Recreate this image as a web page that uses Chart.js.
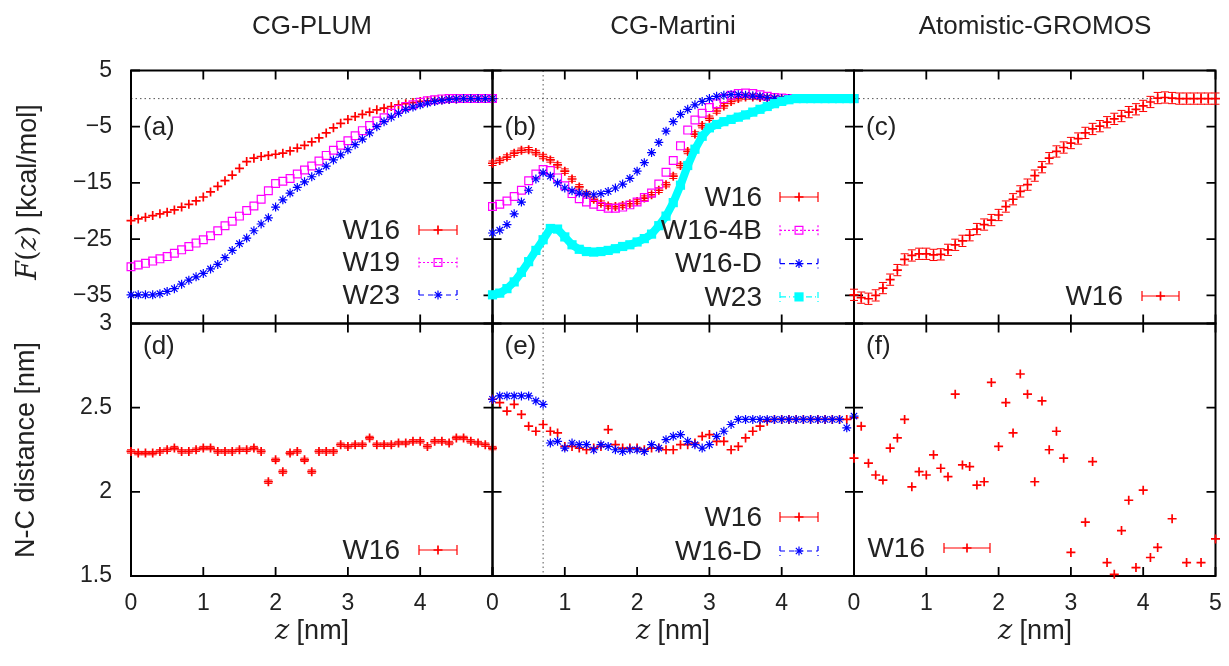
<!DOCTYPE html>
<html>
<head>
<meta charset="utf-8">
<title>Free energy and N-C distance profiles</title>
<script src="https://cdn.jsdelivr.net/npm/chart.js@4.4.1/dist/chart.umd.min.js"></script>
<style>
  html, body { margin: 0; padding: 0; background: #fff; }
  #page { position: relative; width: 1229px; height: 666px; overflow: hidden;
          font-family: "Liberation Sans", Arial, sans-serif; color: #222; }
  #page canvas { position: absolute; left: 0; top: 0; }
  .t { position: absolute; white-space: nowrap; transform: translate(-50%, -50%); }
  .col { font-size: 26px; top: 25px; }
  .xl { font-size: 27px; top: 630px; }
  .yl { font-size: 27px; transform: translate(-50%, -50%) rotate(-90deg); }
  .m { font-family: "DejaVu Serif", "Liberation Serif", serif; font-style: italic; }
  .r { font-family: "DejaVu Serif", "Liberation Serif", serif; }
</style>
</head>
<body>
<div id="page">
  <canvas id="pa" width="1229" height="666"></canvas>
  <canvas id="pb" width="1229" height="666"></canvas>
  <canvas id="pc" width="1229" height="666"></canvas>
  <canvas id="pd" width="1229" height="666"></canvas>
  <canvas id="pe" width="1229" height="666"></canvas>
  <canvas id="pf" width="1229" height="666"></canvas>

  <div class="t col" style="left:312px">CG-PLUM</div>
  <div class="t col" style="left:673px">CG-Martini</div>
  <div class="t col" style="left:1035px">Atomistic-GROMOS</div>

  <div class="t yl" style="left:27px; top:192px"><span class="m">F</span><span class="r">(</span><span class="m">z</span><span class="r">)</span> [kcal/mol]</div>
  <div class="t yl" style="left:25px; top:450px">N-C distance [nm]</div>

  <div class="t xl" style="left:312px"><span class="m">z</span> [nm]</div>
  <div class="t xl" style="left:673px"><span class="m">z</span> [nm]</div>
  <div class="t xl" style="left:1035px"><span class="m">z</span> [nm]</div>
</div>

<script>
// ---- data ----
var zGrid = [0, 0.1, 0.2, 0.3, 0.4, 0.5, 0.6, 0.7, 0.8, 0.9,
             1.0, 1.1, 1.2, 1.3, 1.4, 1.5, 1.6, 1.7, 1.8, 1.9,
             2.0, 2.1, 2.2, 2.3, 2.4, 2.5, 2.6, 2.7, 2.8, 2.9,
             3.0, 3.1, 3.2, 3.3, 3.4, 3.5, 3.6, 3.7, 3.8, 3.9,
             4.0, 4.1, 4.2, 4.3, 4.4, 4.5, 4.6, 4.7, 4.8, 4.9, 5.0];

// (a) CG-PLUM free energy
var plumW16 = [-21.7, -21.4, -21.1, -20.8, -20.5, -20.2, -19.8, -19.3, -18.8, -18.2,
               -17.5, -16.6, -15.6, -14.6, -13.6, -12.4, -11.2, -10.6, -10.3, -10.1,
               -9.9, -9.7, -9.3, -8.8, -8.3, -7.7, -7.0, -6.1, -5.2, -4.4,
               -3.7, -3.2, -2.8, -2.4, -2.0, -1.7, -1.4, -1.1, -0.9, -0.7,
               -0.5, -0.4, -0.3, -0.2, -0.1, -0.05, 0, 0, 0, 0, 0];
var plumW19 = [-29.9, -29.6, -29.3, -28.9, -28.5, -28.1, -27.5, -26.9, -26.3, -25.7,
               -25.1, -24.4, -23.5, -22.6, -21.8, -20.9, -19.9, -19.1, -17.9, -16.4,
               -15.1, -14.7, -14.2, -13.4, -12.7, -12.0, -11.1, -10.1, -9.2, -8.3,
               -7.5, -6.6, -5.7, -4.8, -4.0, -3.4, -2.6, -1.9, -1.4, -1.1,
               -0.65, -0.4, -0.2, -0.05, 0, 0, 0, 0, 0, 0, 0];
var plumW23 = [-34.9, -34.9, -34.9, -34.9, -34.7, -34.3, -33.8, -33.0, -32.3, -31.7,
               -31.1, -30.3, -29.5, -28.3, -27.0, -25.8, -24.8, -23.5, -22.3, -21.2,
               -19.3, -18.0, -16.8, -15.8, -14.8, -13.9, -13.0, -12.0, -10.9, -10.0,
               -9.1, -8.2, -7.2, -6.1, -5.0, -4.1, -3.3, -2.6, -1.9, -1.5,
               -1.1, -0.8, -0.5, -0.3, -0.15, -0.05, 0, 0, 0, 0, 0];

// (b) CG-Martini free energy
var martW16 = [-11.5, -11.0, -10.4, -9.7, -9.2, -9.1, -9.6, -10.3, -10.9, -11.8,
               -12.9, -14.3, -15.7, -16.9, -17.9, -18.6, -19.1, -19.2, -19.0, -18.7,
               -18.3, -17.7, -17.1, -16.3, -15.3, -13.8, -11.9, -9.4, -6.3, -4.8,
               -3.5, -2.2, -1.3, -0.5, 0.0, 0.3, 0.3, 0.2, 0.1, 0,
               0, 0, 0, 0, 0, 0, 0, 0, 0, 0, 0];
var martW16_4B = [-19.2, -18.8, -18.2, -17.4, -16.3, -14.6, -13.4, -12.6, -12.8, -14.1,
                  -15.5, -16.9, -17.8, -18.4, -18.8, -19.2, -19.5, -19.5, -19.3, -18.9,
                  -18.4, -17.6, -16.8, -15.2, -13.1, -11.0, -8.4, -5.6, -3.8, -2.6,
                  -1.6, -0.9, 0.0, 0.6, 0.9, 1.0, 0.9, 0.7, 0.4, 0.2,
                  0.1, 0, 0, 0, 0, 0, 0, 0, 0, 0, 0];
var martW16_D = [-23.9, -23.4, -22.4, -20.5, -18.4, -16.3, -14.3, -13.2, -13.8, -15.0,
                 -15.9, -16.4, -16.8, -17.0, -17.1, -16.9, -16.5, -15.9, -15.2, -14.2,
                 -12.9, -11.4, -9.6, -7.8, -5.8, -4.1, -2.8, -1.9, -1.1, -0.5,
                 0.0, 0.4, 0.6, 0.7, 0.7, 0.6, 0.5, 0.4, 0.2, 0.1,
                 0, 0, 0, 0, 0, 0, 0, 0, 0, 0, 0];
var martW23 = [-34.9, -34.6, -33.8, -32.6, -30.9, -29.0, -27.0, -25.1, -23.1, -23.2,
               -24.6, -26.0, -26.8, -27.2, -27.3, -27.2, -27.0, -26.7, -26.3, -26.0,
               -25.5, -24.9, -24.1, -22.6, -20.9, -18.5, -15.4, -11.9, -9.0, -6.7,
               -5.2, -4.6, -4.1, -3.7, -3.3, -2.9, -2.4, -1.9, -1.4, -0.9,
               -0.5, -0.2, 0, 0, 0, 0, 0, 0, 0, 0, 0];

// (c) Atomistic-GROMOS free energy
var gromW16 = [-34.9, -35.4, -35.6, -35.0, -33.7, -32.2, -30.5, -28.6, -27.9, -27.6,
               -27.6, -27.8, -27.7, -26.9, -26.0, -25.3, -24.3, -23.2, -22.4, -21.6,
               -20.7, -19.2, -17.9, -16.5, -15.3, -13.7, -12.2, -10.6, -9.4, -8.7,
               -7.9, -7.1, -6.1, -5.4, -4.9, -4.2, -3.6, -3.1, -2.4, -1.9,
               -1.3, -0.6, 0.1, 0.2, 0.1, 0, 0, 0, 0, 0, 0];

// (d) CG-PLUM N-C distance
var plumNC = [2.24, 2.23, 2.23, 2.23, 2.24, 2.25, 2.26, 2.24, 2.24, 2.25,
              2.26, 2.26, 2.24, 2.24, 2.24, 2.25, 2.25, 2.26, 2.24, 2.06,
              2.19, 2.12, 2.23, 2.24, 2.19, 2.12, 2.24, 2.24, 2.24, 2.28,
              2.27, 2.28, 2.28, 2.32, 2.28, 2.28, 2.28, 2.29, 2.29, 2.30,
              2.30, 2.27, 2.30, 2.30, 2.29, 2.32, 2.32, 2.30, 2.29, 2.28, 2.26];

// (e) CG-Martini N-C distance
var martNC_W16 = [2.55, 2.53, 2.48, 2.52, 2.46, 2.39, 2.36, 2.40, 2.36, 2.35,
                  2.27, 2.27, 2.26, 2.25, 2.26, 2.27, 2.37, 2.28, 2.26, 2.26,
                  2.26, 2.25, 2.26, 2.26, 2.25, 2.25, 2.28, 2.28, 2.29, 2.33,
                  2.34, 2.30, 2.30, 2.25, 2.27, 2.32, 2.36, 2.39, 2.42, 2.43,
                  2.43, 2.43, 2.43, 2.43, 2.43, 2.43, 2.43, 2.43, 2.43, 2.43, 2.44];
var martNC_W16D = [2.55, 2.57, 2.57, 2.57, 2.57, 2.57, 2.54, 2.52, 2.29, 2.30,
                   2.26, 2.29, 2.28, 2.28, 2.25, 2.28, 2.27, 2.25, 2.24, 2.25,
                   2.25, 2.24, 2.28, 2.26, 2.31, 2.33, 2.34, 2.30, 2.28, 2.26,
                   2.28, 2.33, 2.36, 2.40, 2.43, 2.43, 2.43, 2.43, 2.43, 2.43,
                   2.43, 2.43, 2.43, 2.43, 2.43, 2.43, 2.43, 2.43, 2.43, 2.38, 2.45];

// (f) Atomistic-GROMOS N-C distance (points below 1.5 are off the plot)
var gromZ = [0, 0.1, 0.2, 0.3, 0.4, 0.5, 0.6, 0.7, 0.8, 0.9,
             1.0, 1.1, 1.2, 1.3, 1.4, 1.5, 1.6, 1.7, 1.8, 1.9,
             2.0, 2.1, 2.2, 2.3, 2.4, 2.5, 2.6, 2.7, 2.8, 2.9,
             3.0, 3.2, 3.3, 3.5, 3.6, 3.7, 3.8, 3.9, 4.0, 4.1,
             4.2, 4.4, 4.6, 4.8, 5.0];
var gromNC = [2.20, 2.39, 2.17, 2.10, 2.07, 2.26, 2.32, 2.43, 2.03, 2.12,
              2.10, 2.22, 2.14, 2.09, 2.58, 2.16, 2.15, 2.04, 2.06, 2.65,
              2.27, 2.53, 2.35, 2.70, 2.58, 2.06, 2.54, 2.25, 2.36, 2.20,
              1.64, 1.82, 2.18, 1.58, 1.51, 1.77, 1.95, 1.55, 2.01, 1.61,
              1.67, 1.84, 1.58, 1.58, 1.72];

var zTicks = [0, 1, 2, 3, 4, 5];
var energyTicks = [5, -5, -15, -25, -35];
var distTicks = [3, 2.5, 2, 1.5];
var energyRange = [-40, 5];
var distRange = [1.5, 3];
var bulkLevel = 0;      // dotted reference line in (a)-(c)
var martiniMarkZ = 0.7; // dotted vertical line in (b) and (e)

// ---- layout ----
var W = 1229, H = 666;
var COLS = [[131, 492.5], [492.5, 854], [854, 1215.5]];
var ROWS = [[70.5, 323.5], [323.5, 576]];
var X_LABEL_BAND = 60;
var INK = "#222";
var FONT = "'Liberation Sans', Arial, sans-serif";

var RED = "#ff0000", MAG = "#ff00ff", BLUE = "#0000ff", CYAN = "#00ffff";

function pts(xs, ys) {
  return ys.map(function (y, i) { return { x: xs[i], y: y }; });
}

function plus(label, xs, ys, extra) {
  return Object.assign({
    label: label, data: pts(xs, ys), pointStyle: "cross", pointRadius: 4.5,
    borderColor: RED, backgroundColor: RED, pointBorderWidth: 1.7, clip: false, keyDash: []
  }, extra || {});
}
function openSquare(label, xs, ys, extra) {
  return Object.assign({
    label: label, data: pts(xs, ys), pointStyle: "rect", pointRadius: 5.5,
    borderColor: MAG, backgroundColor: "rgba(0,0,0,0)", pointBorderWidth: 1.2, clip: false, keyDash: [2, 2]
  }, extra || {});
}
function star(label, xs, ys, extra) {
  return Object.assign({
    label: label, data: pts(xs, ys), pointStyle: "star", pointRadius: 4.5,
    borderColor: BLUE, backgroundColor: BLUE, pointBorderWidth: 1.2, clip: false, keyDash: [5, 4]
  }, extra || {});
}

// frame, inward tics and dotted guide lines
var framePlugin = {
  id: "frame",
  beforeDatasetsDraw: function (chart, args, o) {
    var ctx = chart.ctx, a = chart.chartArea, xs = chart.scales.x, ys = chart.scales.y;
    ctx.save();
    ctx.strokeStyle = "#555";
    ctx.lineWidth = 1;
    ctx.setLineDash([1.5, 3]);
    if (o.hLine !== undefined) {
      var py = ys.getPixelForValue(o.hLine);
      ctx.beginPath(); ctx.moveTo(a.left, py); ctx.lineTo(a.right, py); ctx.stroke();
    }
    if (o.vLine !== undefined) {
      var px = xs.getPixelForValue(o.vLine);
      ctx.beginPath(); ctx.moveTo(px, a.top); ctx.lineTo(px, a.bottom); ctx.stroke();
    }
    ctx.setLineDash([]);
    ctx.strokeStyle = "#000";
    ctx.lineWidth = 1.8;
    ctx.beginPath();
    xs.ticks.forEach(function (t) {
      var x = xs.getPixelForValue(t.value);
      ctx.moveTo(x, a.bottom); ctx.lineTo(x, a.bottom - 9);
      ctx.moveTo(x, a.top); ctx.lineTo(x, a.top + 9);
    });
    ys.ticks.forEach(function (t) {
      var y = ys.getPixelForValue(t.value);
      ctx.moveTo(a.left, y); ctx.lineTo(a.left + 9, y);
      ctx.moveTo(a.right, y); ctx.lineTo(a.right - 9, y);
    });
    ctx.stroke();
    ctx.lineWidth = 2;
    ctx.strokeRect(a.left, a.top, a.right - a.left, a.bottom - a.top);
    ctx.fillStyle = INK;
    ctx.font = "26px " + FONT;
    ctx.textAlign = "left";
    ctx.textBaseline = "middle";
    ctx.fillText(o.label, a.left + 12, o.labelY);
    ctx.restore();
  }
};

// vertical error bars with caps
var errorBarPlugin = {
  id: "errbars",
  beforeDatasetDraw: function (chart, args) {
    var ds = chart.data.datasets[args.index];
    if (!ds.errY) return;
    var ctx = chart.ctx, ys = chart.scales.y;
    ctx.save();
    ctx.strokeStyle = ds.borderColor;
    ctx.lineWidth = 1;
    ctx.beginPath();
    args.meta.data.forEach(function (p, i) {
      var v = ds.data[i].y;
      var y1 = ys.getPixelForValue(v - ds.errY), y2 = ys.getPixelForValue(v + ds.errY);
      ctx.moveTo(p.x, y1); ctx.lineTo(p.x, y2);
      ctx.moveTo(p.x - 4, y1); ctx.lineTo(p.x + 4, y1);
      ctx.moveTo(p.x - 4, y2); ctx.lineTo(p.x + 4, y2);
    });
    ctx.stroke();
    ctx.restore();
  }
};

// gnuplot-like key inside the panel
var keyPlugin = {
  id: "key",
  afterDraw: function (chart, args, o) {
    var ctx = chart.ctx;
    ctx.save();
    ctx.font = "28px " + FONT;
    ctx.textAlign = "right";
    ctx.textBaseline = "middle";
    chart.data.datasets.forEach(function (ds, i) {
      var y = o.y + i * o.dy;
      ctx.fillStyle = INK;
      ctx.fillText(ds.label, o.x, y + 1);
      ctx.strokeStyle = ds.borderColor;
      ctx.lineWidth = 1.2;
      ctx.setLineDash(ds.keyDash);
      ctx.beginPath();
      ctx.moveTo(o.s1, y); ctx.lineTo(o.s2, y);
      ctx.moveTo(o.s1, y - 5); ctx.lineTo(o.s1, y + 5);
      ctx.moveTo(o.s2, y - 5); ctx.lineTo(o.s2, y + 5);
      ctx.stroke();
      ctx.setLineDash([]);
      ctx.fillStyle = ds.backgroundColor;
      ctx.lineWidth = ds.pointBorderWidth;
      Chart.helpers.drawPoint(ctx, {
        pointStyle: ds.pointStyle, radius: ds.pointRadius, borderWidth: ds.pointBorderWidth, rotation: 0
      }, (o.s1 + o.s2) / 2, y);
    });
    ctx.restore();
  }
};

function minusSign(v) { return String(v).replace("-", "\u2212"); }

function panel(id, col, row, datasets, o) {
  var c = COLS[col], r = ROWS[row];
  var yr = row === 0 ? energyRange : distRange;
  var yt = row === 0 ? energyTicks : distTicks;
  // tick labels are clipped to their axis box, so the labelled axes get real room
  var yW = col === 0 ? c[0] : 0;
  var xH = row === 1 ? X_LABEL_BAND : 0;
  return new Chart(document.getElementById(id), {
    type: "scatter",
    data: { datasets: datasets },
    options: {
      responsive: false,
      animation: false,
      events: [],
      layout: { padding: { left: c[0] - yW, right: W - c[1], top: r[0], bottom: H - r[1] - xH } },
      plugins: {
        legend: { display: false },
        tooltip: { enabled: false },
        frame: { hLine: o.hLine, vLine: o.vLine, label: o.label, labelY: o.labelY },
        key: o.key
      },
      scales: {
        x: {
          type: "linear", min: 0, max: 5,
          afterBuildTicks: function (s) { s.ticks = zTicks.map(function (v) { return { value: v }; }); },
          afterFit: function (s) { s.height = xH; s.paddingLeft = 0; s.paddingRight = 0; },
          grid: { display: false, drawTicks: false },
          border: { display: false },
          ticks: {
            display: row === 1, padding: 14, color: INK, maxRotation: 0, minRotation: 0, autoSkip: false,
            font: { family: FONT, size: 23 },
            callback: function (v) { return (v === 5 && col < 2) ? "" : String(v); }
          }
        },
        y: {
          type: "linear", min: yr[0], max: yr[1],
          afterBuildTicks: function (s) { s.ticks = yt.map(function (v) { return { value: v }; }); },
          afterFit: function (s) { s.width = yW; s.paddingTop = 0; s.paddingBottom = 0; },
          grid: { display: false, drawTicks: false },
          border: { display: false },
          ticks: {
            display: col === 0, padding: 19, color: INK, autoSkip: false,
            font: { family: FONT, size: 23 },
            callback: minusSign
          }
        }
      }
    },
    plugins: [framePlugin, errorBarPlugin, keyPlugin]
  });
}

panel("pa", 0, 0, [
  plus("W16", zGrid, plumW16, { order: 3 }),
  openSquare("W19", zGrid, plumW19, { order: 2 }),
  star("W23", zGrid, plumW23, { order: 1 })
], { hLine: bulkLevel, label: "(a)", labelY: 128,
     key: { x: 400, y: 230, dy: 32.5, s1: 419, s2: 457 } });

panel("pb", 1, 0, [
  plus("W16", zGrid, martW16, { order: 4, errY: 0.4 }),
  openSquare("W16-4B", zGrid, martW16_4B, { order: 3 }),
  star("W16-D", zGrid, martW16_D, { order: 2 }),
  {
    label: "W23", data: pts(zGrid, martW23), order: 1, clip: false,
    showLine: true, borderWidth: 8, borderColor: CYAN, backgroundColor: CYAN,
    pointStyle: "rect", pointRadius: 6.5, pointBorderWidth: 0, keyDash: [6, 3, 1, 3]
  }
], { hLine: bulkLevel, vLine: martiniMarkZ, label: "(b)", labelY: 128,
     key: { x: 762, y: 197, dy: 33.3, s1: 780, s2: 818 } });

panel("pc", 2, 0, [
  plus("W16", zGrid, gromW16, { errY: 1.0 })
], { hLine: bulkLevel, label: "(c)", labelY: 128,
     key: { x: 1123, y: 296, dy: 33, s1: 1142, s2: 1179 } });

panel("pd", 0, 1, [
  plus("W16", zGrid, plumNC, { errY: 0.01 })
], { label: "(d)", labelY: 347,
     key: { x: 400, y: 550, dy: 33, s1: 419, s2: 457 } });

panel("pe", 1, 1, [
  plus("W16", zGrid, martNC_W16, { order: 2 }),
  star("W16-D", zGrid, martNC_W16D, { order: 1 })
], { vLine: martiniMarkZ, label: "(e)", labelY: 347,
     key: { x: 762, y: 517, dy: 34, s1: 780, s2: 818 } });

panel("pf", 2, 1, [
  plus("W16", gromZ, gromNC)
], { label: "(f)", labelY: 347,
     key: { x: 925, y: 548, dy: 33, s1: 944, s2: 990 } });
</script>
</body>
</html>
